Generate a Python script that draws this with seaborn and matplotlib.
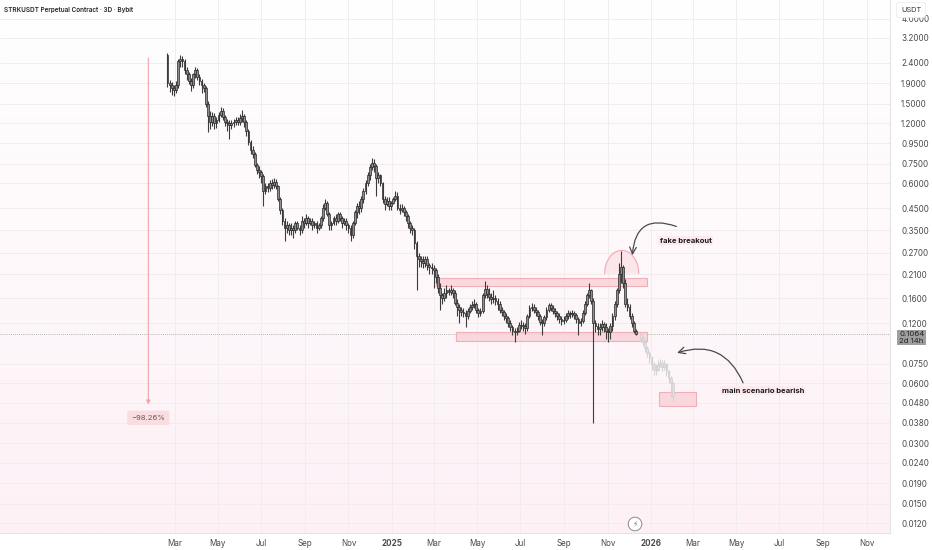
import numpy as np
import pandas as pd
import matplotlib
matplotlib.use("Agg")
from matplotlib import pyplot as plt
import matplotlib.dates as mdates
import matplotlib.patches as mpatches
import matplotlib.transforms as mtransforms
from matplotlib.colors import LinearSegmentedColormap
import seaborn as sns

sns.set_theme(style="white")
plt.rcParams["font.family"] = ["Inter", "DejaVu Sans"]

# 3D candles, STRKUSDT (Bybit perpetual)
start_date = "2024-02-20"
first_open = 2.62
closes = [
    1.90, 1.85, 1.80, 1.75, 1.85, 2.45, 2.50, 2.45, 2.20, 2.10,
    1.95, 1.85, 2.10, 2.20, 2.05, 1.95, 1.85, 1.80, 1.50, 1.30,
    1.22, 1.30, 1.20, 1.25, 1.32, 1.38, 1.28, 1.22, 1.20, 1.17,
    1.20, 1.22, 1.25, 1.22, 1.27, 1.30, 1.22, 1.10, 0.96, 0.88,
    0.84, 0.74, 0.70, 0.68, 0.65, 0.55, 0.58, 0.57, 0.60, 0.59,
    0.61, 0.58, 0.50, 0.44, 0.39, 0.36, 0.37, 0.35, 0.36, 0.35,
    0.38, 0.36, 0.35, 0.39, 0.38, 0.40, 0.38, 0.39, 0.37, 0.38,
    0.36, 0.37, 0.40, 0.45, 0.48, 0.42, 0.37, 0.38, 0.40, 0.39,
    0.42, 0.40, 0.38, 0.39, 0.37, 0.36, 0.33, 0.38, 0.43, 0.46,
    0.45, 0.50, 0.55, 0.60, 0.66, 0.72, 0.76, 0.73, 0.64, 0.66,
    0.60, 0.50, 0.47, 0.49, 0.46, 0.48, 0.50, 0.52, 0.45, 0.44,
    0.45, 0.43, 0.41, 0.38, 0.36, 0.35, 0.30, 0.26, 0.25, 0.245,
    0.24, 0.25, 0.235, 0.23, 0.225, 0.22, 0.205, 0.18, 0.165, 0.16,
    0.17, 0.175, 0.172, 0.175, 0.17, 0.152, 0.145, 0.14, 0.137, 0.135,
    0.13, 0.138, 0.145, 0.148, 0.15, 0.14, 0.134, 0.138, 0.165, 0.178,
    0.168, 0.162, 0.158, 0.16, 0.155, 0.15, 0.14, 0.136, 0.13, 0.127,
    0.12, 0.115, 0.11, 0.108, 0.11, 0.117, 0.118, 0.116, 0.113, 0.13,
    0.142, 0.145, 0.14, 0.136, 0.13, 0.122, 0.12, 0.128, 0.14, 0.147,
    0.143, 0.138, 0.134, 0.13, 0.126, 0.123, 0.125, 0.13, 0.134, 0.133,
    0.134, 0.131, 0.126, 0.12, 0.123, 0.135, 0.15, 0.165, 0.175, 0.155,
    0.12, 0.116, 0.112, 0.115, 0.119, 0.115, 0.11, 0.108, 0.116, 0.13,
    0.15, 0.175, 0.21, 0.23, 0.19, 0.15, 0.145, 0.13, 0.12, 0.11,
    0.1064,
]
highs = [
    2.68, 1.98, 1.92, 1.86, 1.95, 2.52, 2.62, 2.60, 2.52, 2.28,
    2.16, 2.02, 2.14, 2.30, 2.26, 2.10, 2.00, 1.90, 1.84, 1.54,
    1.38, 1.36, 1.34, 1.29, 1.36, 1.45, 1.42, 1.31, 1.26, 1.24,
    1.24, 1.26, 1.29, 1.28, 1.33, 1.40, 1.33, 1.25, 1.12, 0.99,
    0.92, 0.86, 0.76, 0.73, 0.70, 0.67, 0.60, 0.60, 0.62, 0.63,
    0.64, 0.63, 0.59, 0.51, 0.45, 0.40, 0.39, 0.38, 0.38, 0.37,
    0.39, 0.39, 0.37, 0.41, 0.40, 0.42, 0.41, 0.40, 0.40, 0.39,
    0.39, 0.38, 0.41, 0.47, 0.50, 0.49, 0.43, 0.39, 0.41, 0.42,
    0.43, 0.43, 0.41, 0.40, 0.40, 0.38, 0.37, 0.39, 0.44, 0.48,
    0.49, 0.52, 0.57, 0.62, 0.68, 0.75, 0.80, 0.79, 0.75, 0.68,
    0.67, 0.61, 0.52, 0.51, 0.51, 0.49, 0.51, 0.55, 0.54, 0.47,
    0.47, 0.46, 0.44, 0.42, 0.39, 0.37, 0.36, 0.31, 0.27, 0.26,
    0.26, 0.26, 0.26, 0.24, 0.24, 0.235, 0.225, 0.21, 0.19, 0.17,
    0.18, 0.185, 0.18, 0.185, 0.18, 0.175, 0.158, 0.15, 0.145, 0.142,
    0.14, 0.142, 0.15, 0.155, 0.158, 0.153, 0.143, 0.142, 0.17, 0.195,
    0.185, 0.18, 0.17, 0.175, 0.165, 0.16, 0.155, 0.145, 0.14, 0.134,
    0.13, 0.124, 0.118, 0.114, 0.115, 0.122, 0.125, 0.122, 0.12, 0.133,
    0.147, 0.152, 0.15, 0.144, 0.14, 0.133, 0.126, 0.132, 0.145, 0.152,
    0.152, 0.147, 0.142, 0.138, 0.134, 0.13, 0.13, 0.135, 0.14, 0.138,
    0.14, 0.138, 0.134, 0.128, 0.127, 0.14, 0.155, 0.17, 0.19, 0.178,
    0.16, 0.125, 0.12, 0.12, 0.124, 0.122, 0.12, 0.114, 0.12, 0.135,
    0.155, 0.18, 0.24, 0.275, 0.235, 0.20, 0.16, 0.15, 0.135, 0.123,
    0.112,
]
lows = [
    1.82, 1.72, 1.66, 1.64, 1.70, 1.80, 2.30, 2.30, 2.10, 1.98,
    1.88, 1.74, 1.80, 2.02, 1.96, 1.86, 1.70, 1.72, 1.45, 1.08,
    1.12, 1.16, 1.12, 1.14, 1.21, 1.28, 1.24, 1.16, 1.10, 1.00,
    1.12, 1.15, 1.18, 1.17, 1.18, 1.22, 1.15, 1.04, 0.93, 0.84,
    0.80, 0.72, 0.67, 0.64, 0.60, 0.46, 0.53, 0.54, 0.55, 0.56,
    0.57, 0.56, 0.49, 0.42, 0.37, 0.31, 0.34, 0.33, 0.33, 0.32,
    0.34, 0.35, 0.33, 0.34, 0.36, 0.37, 0.36, 0.37, 0.35, 0.36,
    0.34, 0.35, 0.36, 0.39, 0.44, 0.41, 0.35, 0.35, 0.37, 0.37,
    0.38, 0.39, 0.36, 0.37, 0.35, 0.34, 0.31, 0.32, 0.37, 0.40,
    0.42, 0.43, 0.48, 0.53, 0.58, 0.62, 0.70, 0.68, 0.52, 0.60,
    0.58, 0.48, 0.44, 0.46, 0.44, 0.44, 0.47, 0.49, 0.44, 0.42,
    0.43, 0.41, 0.39, 0.36, 0.34, 0.33, 0.28, 0.175, 0.23, 0.23,
    0.225, 0.23, 0.22, 0.21, 0.21, 0.18, 0.19, 0.17, 0.14, 0.15,
    0.155, 0.16, 0.165, 0.165, 0.16, 0.148, 0.13, 0.12, 0.13, 0.128,
    0.115, 0.126, 0.135, 0.14, 0.143, 0.135, 0.128, 0.13, 0.135, 0.16,
    0.16, 0.155, 0.15, 0.152, 0.148, 0.14, 0.134, 0.13, 0.124, 0.12,
    0.115, 0.11, 0.105, 0.097, 0.104, 0.108, 0.112, 0.11, 0.106, 0.11,
    0.127, 0.138, 0.135, 0.13, 0.125, 0.117, 0.105, 0.116, 0.125, 0.136,
    0.138, 0.133, 0.128, 0.125, 0.12, 0.118, 0.119, 0.121, 0.126, 0.127,
    0.128, 0.126, 0.12, 0.105, 0.116, 0.12, 0.132, 0.146, 0.16, 0.15,
    0.038, 0.108, 0.105, 0.104, 0.11, 0.108, 0.10, 0.096, 0.10, 0.11,
    0.125, 0.145, 0.17, 0.19, 0.18, 0.145, 0.138, 0.126, 0.115, 0.107,
    0.104,
]

# projected path ("main scenario bearish")
proj_start = "2025-12-18"
proj_closes = [0.100, 0.096, 0.090, 0.085, 0.080, 0.075, 0.071, 0.070,
               0.074, 0.076, 0.072, 0.075, 0.069, 0.064, 0.060, 0.052]
proj_highs = [0.108, 0.103, 0.098, 0.092, 0.087, 0.082, 0.077, 0.075,
              0.078, 0.079, 0.078, 0.078, 0.076, 0.070, 0.065, 0.061]
proj_lows = [0.097, 0.092, 0.086, 0.081, 0.076, 0.070, 0.066, 0.066,
             0.069, 0.072, 0.069, 0.070, 0.065, 0.060, 0.051, 0.049]

last_price = 0.1064
y_ticks = [0.012, 0.015, 0.019, 0.024, 0.030, 0.038, 0.048, 0.060, 0.075,
           0.12, 0.16, 0.21, 0.27, 0.35, 0.45, 0.60, 0.75, 0.95, 1.2, 1.5,
           1.9, 2.4, 3.2, 4.0]
x_ticks = ["2024-03-01", "2024-05-01", "2024-07-01", "2024-09-01", "2024-11-01",
           "2025-01-01", "2025-03-01", "2025-05-01", "2025-07-01", "2025-09-01",
           "2025-11-01", "2026-01-01", "2026-03-01", "2026-05-01", "2026-07-01",
           "2026-09-01", "2026-11-01"]
x_labels = ["Mar", "May", "Jul", "Sep", "Nov", "2025", "Mar", "May", "Jul", "Sep",
            "Nov", "2026", "Mar", "May", "Jul", "Sep", "Nov"]

# zones: (start, end, low, high)
upper_zone = ("2025-03-05", "2025-12-26", 0.184, 0.202)
lower_zone = ("2025-04-01", "2025-12-26", 0.0977, 0.1085)
target_zone = ("2026-01-12", "2026-03-05", 0.0462, 0.0543)


def d(s):
    return mdates.date2num(pd.Timestamp(s))


fig = plt.figure(figsize=(9.32, 5.5), dpi=100)
rect = [0, 17 / 550, 890 / 932, 533 / 550]

# soft pink gradient background
bg = fig.add_axes(rect, zorder=0)
grad = np.linspace(0, 1, 256).reshape(-1, 1)
cmap = LinearSegmentedColormap.from_list("bg", ["#ffffff", "#fdf1f6"])
bg.imshow(grad, aspect="auto", cmap=cmap, extent=[0, 1, 0, 1], origin="upper")
bg.axis("off")

ax = fig.add_axes(rect, zorder=1)
ax.patch.set_alpha(0)
ax.set_yscale("log")

# candles
dates = pd.date_range(start_date, periods=len(closes), freq="3D")
x = mdates.date2num(dates)
opens = [first_open] + closes[:-1]
o = np.array(opens)
c = np.array(closes)
ax.vlines(x, lows, highs, color="#3c3c3c", lw=0.8, zorder=3)
ax.bar(x, np.abs(c - o), bottom=np.minimum(o, c), width=2.5,
       color="#8e8e8e", edgecolor="#262626", linewidth=0.5, zorder=4)

pdates = pd.date_range(proj_start, periods=len(proj_closes), freq="3D")
px = mdates.date2num(pdates)
po = np.array([last_price] + proj_closes[:-1])
pc = np.array(proj_closes)
ax.vlines(px, proj_lows, proj_highs, color="#d4d4d4", lw=0.8, zorder=3)
ax.bar(px, np.abs(pc - po), bottom=np.minimum(po, pc), width=2.5,
       color="#e2e2e2", edgecolor="#cecece", linewidth=0.5, zorder=4)

# zones
for z in (upper_zone, lower_zone, target_zone):
    ax.add_patch(mpatches.Rectangle((d(z[0]), z[2]), d(z[1]) - d(z[0]), z[3] - z[2],
                                    facecolor="#f9d3d9", edgecolor="#f1a4ae",
                                    lw=0.8, alpha=0.85, zorder=2))

# fake breakout dome (open at the bottom)
t = np.linspace(0, np.pi, 60)
cx, hw = d("2025-11-21"), 24
base, top = np.log10(0.212), np.log10(0.277)
dome_x = cx + hw * np.cos(t)
dome_y = 10 ** (base + (top - base) * np.sin(t))
ax.fill(dome_x, dome_y, facecolor="#fbe3e7", edgecolor="none", alpha=0.8, zorder=2)
ax.plot(dome_x, dome_y, color="#f2a9b2", lw=0.8, zorder=2)

# measurement line
mx = d("2024-01-24")
ax.annotate("", xy=(mx, 0.0455), xytext=(mx, 2.62),
            arrowprops=dict(arrowstyle="-|>", color="#f2a3ab", lw=0.8,
                            mutation_scale=6), zorder=2)
ax.text(mx, 0.0403, "\u221298.26%", ha="center", va="center", fontsize=5.5,
        color="#6a5a5c",
        bbox=dict(boxstyle="round,pad=0.55,rounding_size=0.2",
                  facecolor="#f9dde1", edgecolor="none"))

# notes and arrows
ax.text(d("2026-02-19"), 0.309, "fake breakout", ha="center", va="center",
        fontsize=5.5, fontweight="bold", color="#1c1c1c",
        bbox=dict(boxstyle="square,pad=0.2", facecolor="#fdeaee", edgecolor="none"))
ax.annotate("", xy=(d("2025-12-06"), 0.262), xytext=(d("2026-02-06"), 0.365),
            arrowprops=dict(arrowstyle="->", color="#4a4a4a", lw=0.9,
                            shrinkA=0, shrinkB=0,
                            connectionstyle="arc3,rad=0.65"))
ax.text(d("2026-06-08"), 0.055, "main scenario bearish", ha="center", va="center",
        fontsize=5.5, fontweight="bold", color="#1c1c1c",
        bbox=dict(boxstyle="square,pad=0.2", facecolor="#fdeaee", edgecolor="none"))
ax.annotate("", xy=(d("2026-02-07"), 0.0851), xytext=(d("2026-05-11"), 0.0603),
            arrowprops=dict(arrowstyle="->", color="#4a4a4a", lw=0.9,
                            shrinkA=0, shrinkB=0,
                            connectionstyle="arc3,rad=0.45"))

# last price line and label (label hangs just below the line)
ax.axhline(last_price, color="#9c9c9c", ls=(0, (1, 1.5)), lw=0.6, zorder=1)
trans = mtransforms.blended_transform_factory(ax.transAxes, ax.transData)
trans = trans + mtransforms.ScaledTranslation(0, -4 / 100, fig.dpi_scale_trans)
ax.text(1.0 + 9 / 890, last_price, "0.1064\n2d 14h", transform=trans,
        ha="left", va="center", fontsize=5.6, color="#222222", linespacing=1.05,
        bbox=dict(boxstyle="square,pad=0.22", facecolor="#9e9e9e", edgecolor="none"),
        zorder=5, clip_on=False)

# axes
ax.set_xlim(d("2023-06-29"), d("2026-12-04"))
ax.set_ylim(0.0107, 4.95)
ax.yaxis.tick_right()
ax.set_yticks(y_ticks)
ax.set_yticklabels([f"{v:.4f}" for v in y_ticks])
ax.minorticks_off()
ax.set_xticks([d(s) for s in x_ticks])
ax.set_xticklabels(x_labels)
for lab in ax.get_xticklabels():
    if lab.get_text().isdigit():
        lab.set_fontweight("bold")
        lab.set_color("#333333")
ax.tick_params(axis="y", length=0, pad=8, labelsize=5.8, labelcolor="#4a4a4a")
ax.tick_params(axis="x", length=0, pad=4, labelsize=5.8, labelcolor="#4a4a4a")
ax.grid(True, color="#f1edef", lw=0.7, zorder=0)
for side in ("top", "left"):
    ax.spines[side].set_visible(False)
ax.spines["right"].set_color("#e6e3e4")
ax.spines["bottom"].set_color("#e6e3e4")
ax.spines["right"].set_linewidth(0.8)
ax.spines["bottom"].set_linewidth(0.8)

# header, currency label, icon
fig.text(4 / 932, 1 - 10 / 550, "STRKUSDT Perpetual Contract \u00b7 3D \u00b7 Bybit",
         ha="left", va="center", fontsize=4.6, fontweight="semibold", color="#262626")
fig.text(911 / 932, 1 - 10 / 550, "USDT", ha="center", va="center", fontsize=5.3,
         color="#333333", zorder=6,
         bbox=dict(boxstyle="round,pad=0.6,rounding_size=0.3", facecolor="white",
                   edgecolor="#ececec", lw=0.6))
fig.text(635 / 932, 1 - 524 / 550, "\u26a1", ha="center", va="center", fontsize=5.5,
         color="#777777", family="DejaVu Sans", zorder=6,
         bbox=dict(boxstyle="circle,pad=0.3", facecolor="white",
                   edgecolor="#8a8a8a", lw=0.7))

fig.savefig("out.png", dpi=100)
